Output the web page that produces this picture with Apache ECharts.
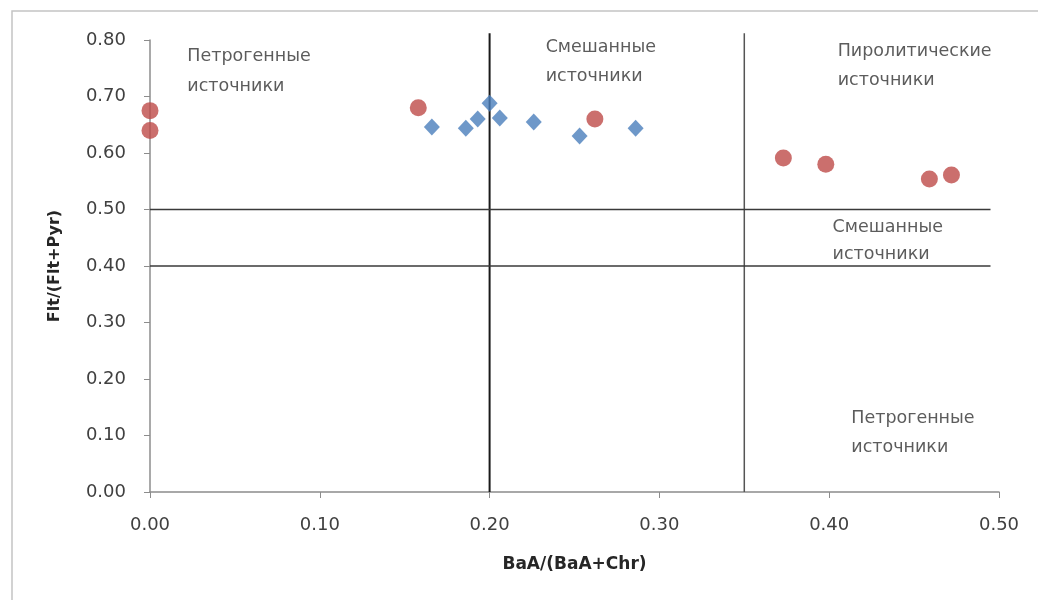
<!DOCTYPE html>
<html>
<head>
<meta charset="utf-8">
<script src="https://cdn.jsdelivr.net/npm/echarts@6/dist/echarts.min.js"></script>
<style>
  html, body { margin:0; padding:0; background:#fff; }
  #chart { width:1038px; height:600px; }
</style>
</head>
<body>
<div id="chart"></div>
<script>
// ====== данные ======
const redPoints = [
  [0.000, 0.675], [0.000, 0.640], [0.158, 0.680], [0.262, 0.660],
  [0.373, 0.591], [0.398, 0.580], [0.459, 0.554], [0.472, 0.561]
];
const bluePoints = [
  [0.166, 0.646], [0.186, 0.644], [0.193, 0.660], [0.200, 0.688],
  [0.206, 0.662], [0.226, 0.655], [0.253, 0.630], [0.286, 0.644]
];
// границы зон
const vLines = [0.20, 0.35];
const vTop = 0.812;
const hLines = [0.50, 0.40];
const hRight = 0.495;
// подписи зон: [x, y, текст]
const zoneLabels = [
  [0.022, 0.770, 'Петрогенные'], [0.022, 0.717, 'источники'],
  [0.233, 0.786, 'Смешанные'],   [0.233, 0.736, 'источники'],
  [0.405, 0.779, 'Пиролитические'], [0.405, 0.729, 'источники'],
  [0.402, 0.469, 'Смешанные'],   [0.402, 0.420, 'источники'],
  [0.413, 0.131, 'Петрогенные'], [0.413, 0.078, 'источники']
];
const xName = 'BaA/(BaA+Chr)';
const yName = 'Flt/(Flt+Pyr)';

// ====== график ======
const chart = echarts.init(document.getElementById('chart'));
const axisGrey = '#8c8c8c';
const labelStyle = { color:'#404040', fontFamily:'DejaVu Sans', fontSize:18 };

const lineSeries = [];
vLines.forEach(x => lineSeries.push({
  type:'line', data:[[x, 0], [x, vTop]], symbol:'none', clip:false, silent:true,
  lineStyle:{ color: x === 0.20 ? '#1a1a1a' : '#555', width: x === 0.20 ? 2 : 1.5 },
  z:1
}));
hLines.forEach(y => lineSeries.push({
  type:'line', data:[[0, y], [hRight, y]], symbol:'none', clip:false, silent:true,
  lineStyle:{ color:'#3a3a3a', width:1.5 }, z:1
}));

chart.setOption({
  animation:false,
  graphic:[{
    type:'rect', shape:{ x:12, y:11, width:1200, height:800 },
    style:{ fill:'none', stroke:'#c4c4c4', lineWidth:1.5 }, silent:true
  }],
  grid:{ left:150, right:39, top:40, bottom:108 },
  xAxis:{
    type:'value', min:0, max:0.5, interval:0.1,
    name:xName, nameLocation:'middle', nameGap:64,
    nameTextStyle:{ color:'#262626', fontFamily:'DejaVu Sans', fontWeight:'bold', fontSize:17 },
    axisLine:{ lineStyle:{ color:axisGrey, width:1.5 } },
    axisTick:{ show:true, length:6, lineStyle:{ color:axisGrey } },
    axisLabel:{ ...labelStyle, margin:24, formatter:v => v.toFixed(2) },
    splitLine:{ show:false }
  },
  yAxis:{
    type:'value', min:0, max:0.8, interval:0.1,
    name:yName, nameLocation:'middle', nameGap:87, nameRotate:90,
    nameTextStyle:{ color:'#262626', fontFamily:'DejaVu Sans', fontWeight:'bold', fontSize:16 },
    axisLine:{ show:true, lineStyle:{ color:axisGrey, width:1.5 } },
    axisTick:{ show:true, length:6, lineStyle:{ color:axisGrey } },
    axisLabel:{ ...labelStyle, margin:24, formatter:v => v.toFixed(2) },
    splitLine:{ show:false }
  },
  series:[
    ...lineSeries,
    {
      type:'scatter', data:bluePoints, symbol:'diamond', symbolSize:[16,17],
      itemStyle:{ color:'#4A7EBB' }, z:3
    },
    {
      type:'scatter', data:redPoints, symbol:'circle', symbolSize:17,
      itemStyle:{ color:'#BE4B48' }, z:4
    },
    {
      type:'scatter', data:zoneLabels, symbolSize:0, silent:true, z:5,
      label:{
        show:true, position:'right', distance:0,
        color:'#333', fontFamily:'DejaVu Sans', fontSize:17.5,
        formatter:p => p.data[2]
      }
    }
  ]
});
</script>
</body>
</html>
